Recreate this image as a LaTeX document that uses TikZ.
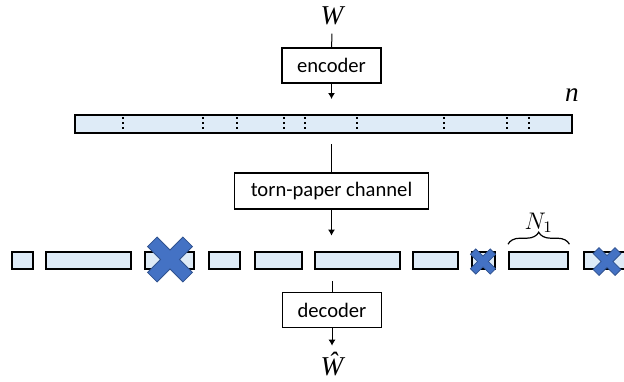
\documentclass[tikz,border=0pt]{standalone}
\usepackage{fontspec}
\setmainfont{Carlito}
\newfontfamily\symfont{Liberation Serif}
\usepackage{tikz}
\usetikzlibrary{positioning, arrows.meta, decorations.pathreplacing}

\definecolor{paper}{HTML}{DEEBF7}
\definecolor{lossblue}{HTML}{4472C4}
\definecolor{lossedge}{HTML}{2F528F}

% blue cross over a lost piece: x, y, size
\newcommand{\lossmark}[3]{\draw[lossmark, shift={(#1,#2)}, rotate=45, scale=#3] (0.27,0.27) -- (0.27,1) -- (-0.27,1) -- (-0.27,0.27) -- (-1,0.27) -- (-1,-0.27) -- (-0.27,-0.27) -- (-0.27,-1) -- (0.27,-1) -- (0.27,-0.27) -- (1,-0.27) -- (1,0.27) -- cycle;}

\begin{document}
\begin{tikzpicture}[x=0.5pt, y=-0.5pt,
	blk/.style={draw, line width=0.6pt, minimum width=49.5pt, minimum height=17.5pt, inner sep=0pt, font=\fontsize{10.3}{12}\selectfont},
	piece/.style={draw, line width=1pt, fill=paper, minimum height=8.7pt, inner sep=0pt},
	sym/.style={inner sep=1pt, font=\symfont\itshape\fontsize{13.6}{15}\selectfont},
	link/.style={line width=0.5pt},
	flow/.style={line width=0.5pt, -{Latex[length=3pt,width=3.5pt]}},
	divider/.style={line width=1pt, dash pattern=on 1pt off 1.5pt},
	lossmark/.style={fill=lossblue, draw=lossedge, line width=0.4pt},
	]
	\useasboundingbox (0,0) rectangle (624,381);
	
	\node[sym] (W) at (332,16) {W};
	\node[blk] (enc) at (331.5,65.5) {encoder};
	\node[piece, minimum width=248.5pt, minimum height=9pt] (bar) at (323.5,124) {};
	\foreach \x in {122.7,203,237,284,305,357,444,507,529}
		\draw[divider] (\x,117) -- (\x,132);
	\node[sym] (len) at (572,95) {n};
	\node[blk, minimum width=97pt, minimum height=18pt] (chan) at (331.5,191) {torn-paper channel};
	
	% pieces after the channel
	\foreach \name/\cx/\w in {f1/22.5/10.8, f2/88.2/42.5, f3/169.5/24.5, f4/224.5/15.5, f5/278.3/23.3, f6/357.5/42.5, f7/435.5/22.8, f8/483.3/11.7, f9/538.7/29.7, f10/606/22}
		\node[piece, minimum width=\w pt] (\name) at (\cx,260.3) {};
	
	\lossmark{170}{259.5}{25}
	\lossmark{483}{261.5}{14}
	\lossmark{607}{261.5}{15.5}
	
	\draw[decorate, decoration={brace, amplitude=6pt}, line width=0.6pt] ([yshift=3.2pt]f9.north west) -- ([yshift=3.2pt]f9.north east) node[midway, above=5.5pt, inner sep=0pt, font=\fontsize{11.5}{13}\selectfont] (N1) {$N_1$};
	
	\node[blk] (dec) at (332,310) {decoder};
	\node[sym] (What) at (332,364) {Ŵ};
	
	\draw[link, shorten <=3pt] (W) -- (enc);
	\draw[flow, shorten >=7.5pt] (enc.south) -- (enc.south |- bar.north);
	\draw[link, shorten <=5pt] (chan.north |- bar.south) -- (chan.north);
	\draw[flow, shorten >=7.5pt] (chan.south) -- (chan.south |- f6.north);
	\draw[link, shorten <=5.5pt] (dec.north |- f6.south) -- (dec.north);
	\draw[flow, shorten >=2pt] (dec.south) -- (What);
\end{tikzpicture}
\end{document}
